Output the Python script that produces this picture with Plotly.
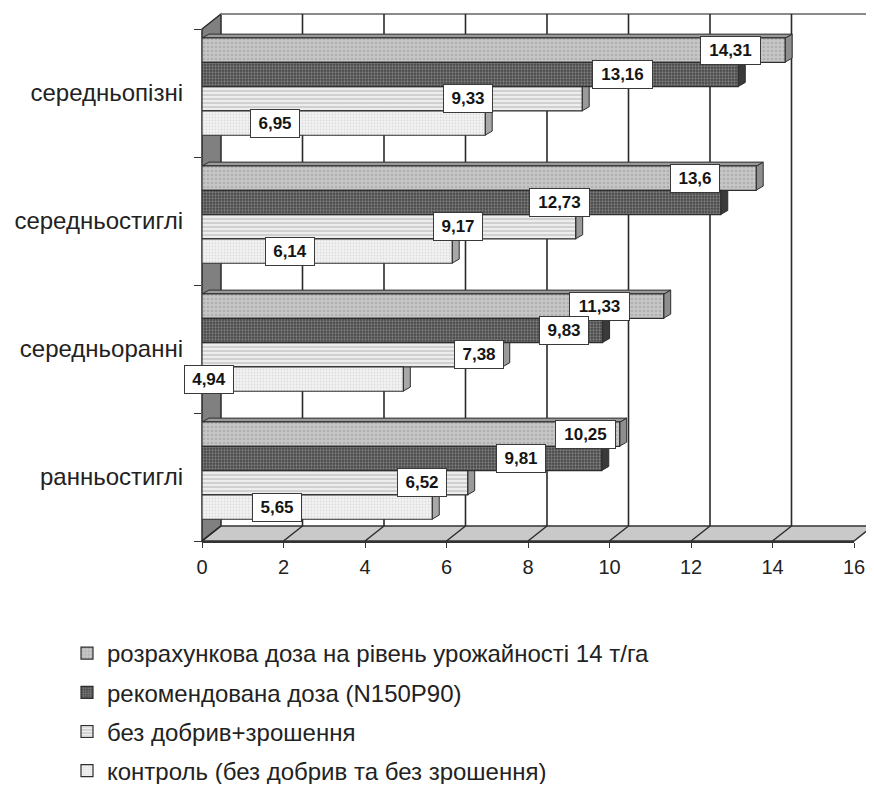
import plotly.graph_objects as go

# ---------------- data ----------------
categories = ["ранньостиглі", "середньоранні", "середньостиглі", "середньопізні"]
series_names = [
    "розрахункова доза на рівень урожайності 14 т/га",
    "рекомендована доза (N150P90)",
    "без добрив+зрошення",
    "контроль (без добрив та без зрошення)",
]
# values per category (same order as categories)
calc_dose = [10.25, 11.33, 13.6, 14.31]
recommended_dose = [9.81, 9.83, 12.73, 13.16]
no_fert_irrig = [6.52, 7.38, 9.17, 9.33]
control = [5.65, 4.94, 6.14, 6.95]
x_ticks = [0, 2, 4, 6, 8, 10, 12, 14, 16]

# label box centres along the value axis (Excel 3-D label placement)
label_x = [
    [9.41, 9.76, 12.1, 12.96],
    [7.82, 8.88, 8.78, 10.33],
    [5.4, 6.8, 6.28, 6.53],
    [1.84, 0.18, 2.17, 1.80],
]

series_values = [calc_dose, recommended_dose, no_fert_irrig, control]

# ---------------- styles ----------------
FONT = "Liberation Sans, Arial, sans-serif"
patterns = [
    dict(shape=".", bgcolor="#c6c6c6", fgcolor="#9a9a9a", size=4, solidity=0.35),
    dict(shape=".", bgcolor="#474747", fgcolor="#b4b4b4", size=3, solidity=0.45),
    dict(shape="-", bgcolor="#ededed", fgcolor="#999999", size=4, solidity=0.35),
    dict(shape=".", bgcolor="#f3f3f3", fgcolor="#c6c6c6", size=3, solidity=0.3),
]
side_colors = ["#8e8e8e", "#3a3a3a", "#9a9a9a", "#a8a8a8"]

BAR_W = 0.19
GROUP_SHIFT = 0.05
offsets = [GROUP_SHIFT + 2 * BAR_W - (i + 1) * BAR_W for i in range(4)]

# geometry in page pixels (page body has an 8px margin)
OFF = 8
L, R, T, B = 202, 854, 29, 541
W_FIG, H_FIG = 858, 776
UNIT = (R - L) / 16.0


def px_x(p):
    return (p - L) / (R - L)


def px_y(p):
    return (B - p) / (B - T)


fig = go.Figure()

for i, (name, vals) in enumerate(zip(series_names, series_values)):
    fig.add_trace(go.Bar(
        y=categories, x=vals, name=name, orientation="h",
        offset=offsets[i], width=BAR_W,
        marker=dict(color=patterns[i]["bgcolor"], pattern=patterns[i],
                    line=dict(color="#2e2e2e", width=1.2)),
        legendgroup=str(i), hoverinfo="x+name",
    ))

shapes = []
# left wall
shapes.append(dict(
    type="path", xref="paper", yref="paper", layer="below",
    path=(f"M {px_x(202)},{px_y(541)} L {px_x(202)},{px_y(29)} "
          f"L {px_x(221)},{px_y(14)} L {px_x(221)},{px_y(526)} Z"),
    fillcolor="#808080", line=dict(color="#2a2a2a", width=1.5)))
# top frame line
shapes.append(dict(type="line", xref="paper", yref="paper", layer="below",
                   x0=px_x(221), x1=px_x(874), y0=px_y(14), y1=px_y(14),
                   line=dict(color="#8a8a8a", width=2)))
# floor
shapes.append(dict(
    type="path", xref="paper", yref="paper", layer="below",
    path=(f"M {px_x(202)},{px_y(541)} L {px_x(R)},{px_y(541)} "
          f"L {px_x(R + 19)},{px_y(526)} L {px_x(221)},{px_y(526)} Z"),
    fillcolor="#c9c9c9", line=dict(color="#333333", width=1.5)))
# back-wall gridlines and floor diagonals
for v in x_ticks:
    if v > 0:
        shapes.append(dict(type="line", xref="x", yref="paper", layer="below",
                           xsizemode="pixel", xanchor=v, x0=19, x1=19,
                           y0=px_y(526), y1=px_y(14),
                           line=dict(color="#2a2a2a", width=1.6)))
    shapes.append(dict(type="line", xref="x", yref="paper", layer="below",
                       xsizemode="pixel", xanchor=v, x0=0, x1=19,
                       y0=px_y(541), y1=px_y(526),
                       line=dict(color="#2a2a2a", width=1.4)))

# 3-D bar faces
HALF = 12
DX, DY = 7, 4
for i, vals in enumerate(series_values):
    for c, v in enumerate(vals):
        yc = c + offsets[i] + BAR_W / 2
        shapes.append(dict(
            type="path", xref="x", yref="y", layer="below",
            xsizemode="pixel", xanchor=v, ysizemode="pixel", yanchor=yc,
            path=f"M 0,{HALF} L {DX},{HALF+DY} L {DX},{-HALF+DY} L 0,{-HALF} Z",
            fillcolor=side_colors[i], line=dict(color="#2e2e2e", width=1)))
        if i == 0:
            d = DX / UNIT
            shapes.append(dict(
                type="path", xref="x", yref="y", layer="below",
                ysizemode="pixel", yanchor=yc,
                path=f"M 0,{HALF} L {d},{HALF+DY} L {v+d},{HALF+DY} L {v},{HALF} Z",
                fillcolor="#9a9a9a", line=dict(color="#2e2e2e", width=1)))

annotations = []
for i, vals in enumerate(series_values):
    for c, v in enumerate(vals):
        txt = f"{v:g}".replace(".", ",")
        annotations.append(dict(
            x=label_x[i][c], y=c + offsets[i] + BAR_W / 2, xref="x", yref="y",
            text=f"<b>{txt}</b>", showarrow=False,
            font=dict(family=FONT, size=17, color="#151515"),
            bgcolor="white", bordercolor="#3a3a3a", borderwidth=1, borderpad=4,
            width=11 * len(txt) - 4, height=19, xanchor="center", yanchor="middle"))

fig.update_layout(
    width=W_FIG, height=H_FIG,
    margin=dict(l=L - OFF, r=W_FIG - (R - OFF), t=T - OFF, b=H_FIG - (B - OFF),
                autoexpand=False),
    paper_bgcolor="white", plot_bgcolor="white",
    barmode="overlay",
    font=dict(family=FONT, size=24, color="#222222"),
    shapes=shapes, annotations=annotations,
    showlegend=True,
    legend=dict(orientation="v", x=px_x(67), xanchor="left",
                y=px_y(631), yanchor="top", traceorder="grouped",
                tracegroupgap=5, font=dict(family=FONT, size=24, color="#222222"),
                bgcolor="rgba(0,0,0,0)"),
)
fig.update_xaxes(range=[0, 16], tickvals=x_ticks, showgrid=False, zeroline=False,
                 showline=True, linecolor="#333333", linewidth=1.5,
                 ticks="outside", ticklen=5, tickcolor="#333333",
                 ticklabelstandoff=2,
                 tickfont=dict(family=FONT, size=20, color="#222222"))
fig.update_yaxes(type="category", categoryorder="array", categoryarray=categories,
                 range=[-0.5, 3.5], tickson="boundaries", ticks="outside", ticklen=7,
                 tickcolor="#333333", showgrid=False, zeroline=False, showline=False,
                 ticklabelstandoff=18,
                 tickfont=dict(family=FONT, size=24, color="#222222"))

fig.write_html("out.html")
